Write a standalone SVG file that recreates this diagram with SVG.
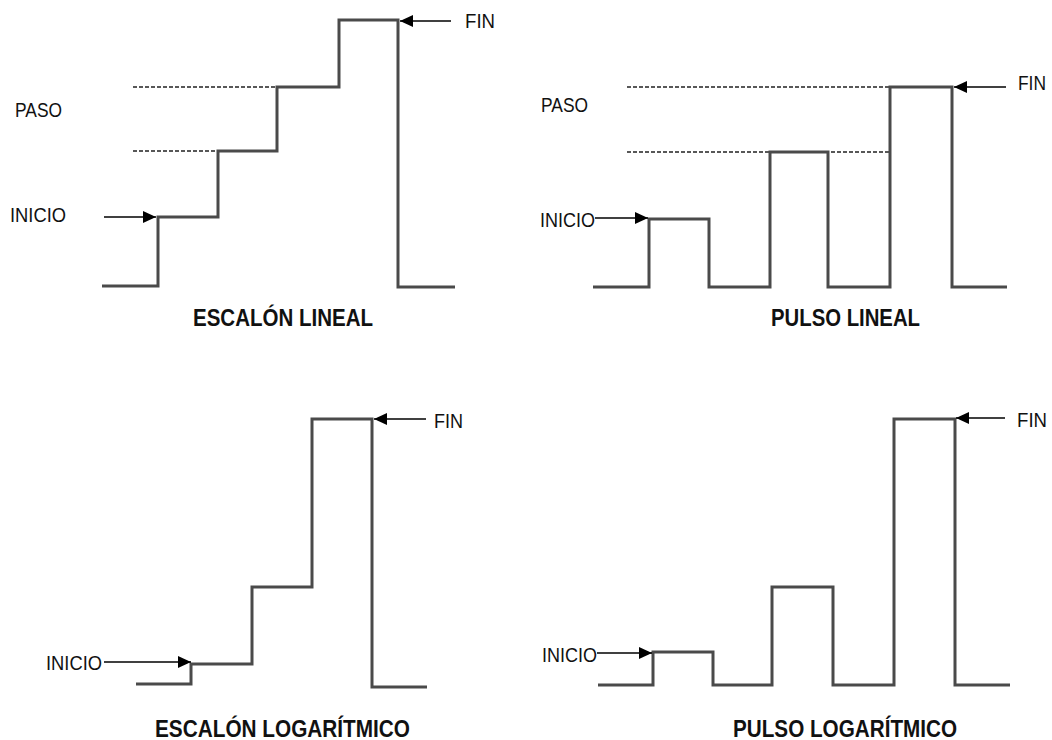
<svg xmlns="http://www.w3.org/2000/svg" width="1052" height="740" viewBox="0 0 1052 740">
<style>
.sig{fill:none;stroke:#4a4a4a;stroke-width:3;stroke-linejoin:miter;stroke-linecap:butt}
.dash{fill:none;stroke:#222;stroke-width:1.4;stroke-dasharray:4 2}
.arr{fill:none;stroke:#000;stroke-width:1.7}
.lbl{font-family:"Liberation Sans",Arial,sans-serif;font-size:21px;fill:#111}
.ttl{font-family:"Liberation Sans",Arial,sans-serif;font-size:24px;font-weight:bold;fill:#111}
</style>
<defs>
<marker id="ah" markerWidth="13" markerHeight="12" refX="13" refY="6" orient="auto" markerUnits="userSpaceOnUse">
<path d="M0,0 L13,6 L0,12 Z" fill="#000"/>
</marker>
</defs>
<rect width="1052" height="740" fill="#fff"/>

<g id="escalon-lineal">
<line class="dash" x1="133" y1="87" x2="277" y2="87"/>
<line class="dash" x1="133" y1="151" x2="218" y2="151"/>
<path class="sig" d="M102,286 H158 V217 H218 V151 H277 V87 H339 V20 H398 V287 H455"/>
<text class="lbl" x="15" y="117" textLength="47" lengthAdjust="spacingAndGlyphs">PASO</text>
<text class="lbl" x="10" y="222" textLength="56" lengthAdjust="spacingAndGlyphs">INICIO</text>
<text class="lbl" x="465" y="28" textLength="30" lengthAdjust="spacingAndGlyphs">FIN</text>
<text class="ttl" x="193" y="326" textLength="180" lengthAdjust="spacingAndGlyphs">ESCALÓN LINEAL</text>
</g>

<g id="pulso-lineal">
<line class="dash" x1="627" y1="87" x2="890" y2="87"/>
<line class="dash" x1="627" y1="152" x2="890" y2="152"/>
<path class="sig" d="M593,287 H649 V219 H709 V287 H770 V152 H828 V287 H890 V87 H952 V287 H1007"/>
<text class="lbl" x="541" y="112" textLength="47" lengthAdjust="spacingAndGlyphs">PASO</text>
<text class="lbl" x="540" y="227" textLength="55" lengthAdjust="spacingAndGlyphs">INICIO</text>
<text class="lbl" x="1018" y="90" textLength="28" lengthAdjust="spacingAndGlyphs">FIN</text>
<text class="ttl" x="771" y="326" textLength="149" lengthAdjust="spacingAndGlyphs">PULSO LINEAL</text>
</g>

<g id="escalon-logaritmico">
<path class="sig" d="M136,684 H191 V664 H252 V587 H312 V419 H372 V687 H427"/>
<text class="lbl" x="46" y="670" textLength="56" lengthAdjust="spacingAndGlyphs">INICIO</text>
<text class="lbl" x="434" y="428" textLength="29" lengthAdjust="spacingAndGlyphs">FIN</text>
<text class="ttl" x="155" y="737" textLength="255" lengthAdjust="spacingAndGlyphs">ESCALÓN LOGARÍTMICO</text>
</g>

<g id="pulso-logaritmico">
<path class="sig" d="M598,685 H653 V652 H713 V685 H772 V587 H833 V685 H894 V419 H955 V685 H1010"/>
<text class="lbl" x="542" y="662" textLength="55" lengthAdjust="spacingAndGlyphs">INICIO</text>
<text class="lbl" x="1017" y="427" textLength="30" lengthAdjust="spacingAndGlyphs">FIN</text>
<text class="ttl" x="733" y="737" textLength="224" lengthAdjust="spacingAndGlyphs">PULSO LOGARÍTMICO</text>
</g>

<g id="connectors">
<line class="arr" x1="104" y1="217" x2="156" y2="217" marker-end="url(#ah)"/>
<line class="arr" x1="451" y1="21" x2="400" y2="21" marker-end="url(#ah)"/>
<line class="arr" x1="595" y1="218" x2="648" y2="218" marker-end="url(#ah)"/>
<line class="arr" x1="1006" y1="87" x2="954" y2="87" marker-end="url(#ah)"/>
<line class="arr" x1="104" y1="662" x2="191" y2="662" marker-end="url(#ah)"/>
<line class="arr" x1="426" y1="419" x2="374" y2="419" marker-end="url(#ah)"/>
<line class="arr" x1="597" y1="653" x2="652" y2="653" marker-end="url(#ah)"/>
<line class="arr" x1="1005" y1="418" x2="956" y2="418" marker-end="url(#ah)"/>
</g>
</svg>
